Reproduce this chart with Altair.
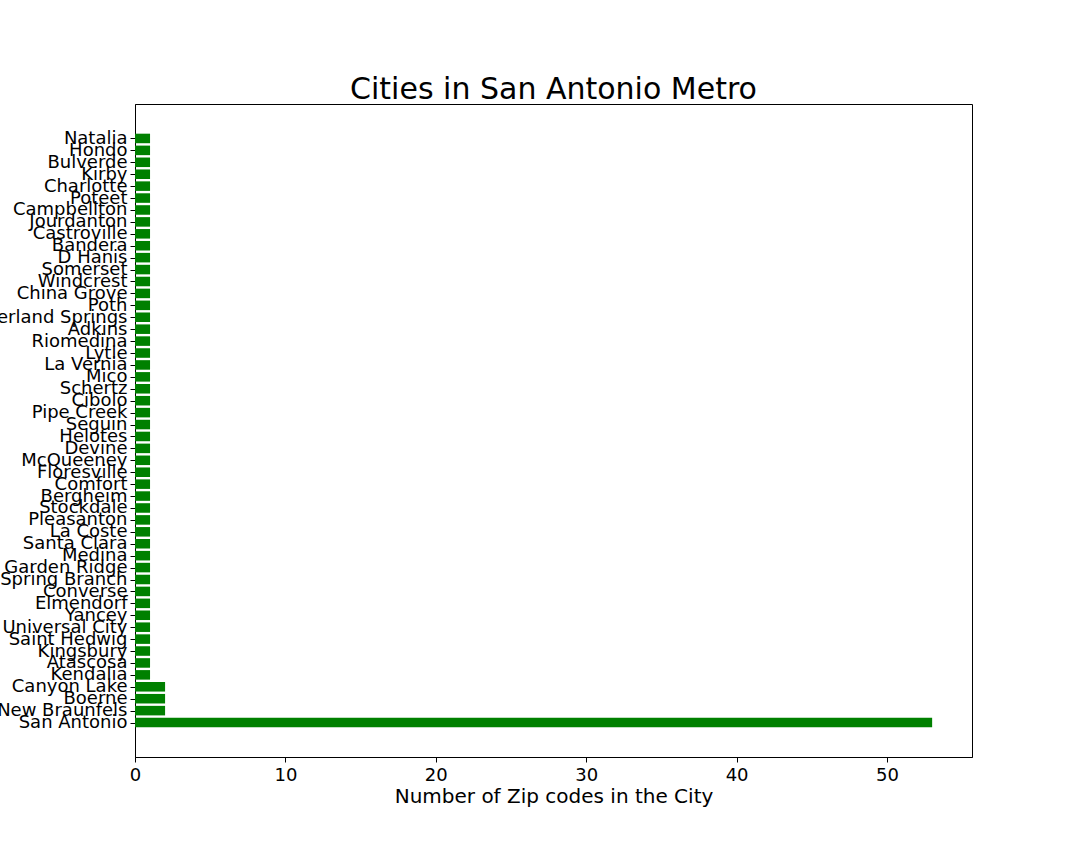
import json
import altair as alt
import pandas as pd

cities = ["Natalia", "Hondo", "Bulverde", "Kirby", "Charlotte", "Poteet", "Campbellton",
          "Jourdanton", "Castroville", "Bandera", "D Hanis", "Somerset", "Windcrest",
          "China Grove", "Poth", "Sutherland Springs", "Adkins", "Riomedina", "Lytle",
          "La Vernia", "Mico", "Schertz", "Cibolo", "Pipe Creek", "Seguin", "Helotes",
          "Devine", "McQueeney", "Floresville", "Comfort", "Bergheim", "Stockdale",
          "Pleasanton", "La Coste", "Santa Clara", "Medina", "Garden Ridge", "Spring Branch",
          "Converse", "Elmendorf", "Yancey", "Universal City", "Saint Hedwig", "Kingsbury",
          "Atascosa", "Kendalia", "Canyon Lake", "Boerne", "New Braunfels", "San Antonio"]
counts = [1] * 46 + [2, 2, 2, 53]

n = len(cities)
idx = [n - 1 - i for i in range(n)]  # San Antonio at 0 (bottom)
df = pd.DataFrame({
    "city": cities,
    "count": counts,
    "idx": idx,
})
df["y0"] = df["idx"] - 0.4
df["y1"] = df["idx"] + 0.4

names_by_idx = [None] * n
for c, i in zip(cities, idx):
    names_by_idx[i] = c
label_expr = json.dumps(names_by_idx) + "[datum.value]"

FONT = "DejaVu Sans"

chart = alt.Chart(df).mark_bar(color="#008000").encode(
    x=alt.X("count:Q",
            scale=alt.Scale(domain=[0, 55.65], nice=False, zero=True),
            axis=alt.Axis(title="Number of Zip codes in the City", values=[0, 10, 20, 30, 40, 50],
                          grid=False, tickSize=5, tickColor="black", domainColor="black",
                          labelFontSize=18, titleFontSize=20, labelColor="black",
                          titleColor="black", titleFontWeight="normal", labelPadding=4,
                          titlePadding=2, labelFont=FONT, titleFont=FONT, labelFlush=False)),
    x2=alt.value(0),
    y=alt.Y("y0:Q",
            scale=alt.Scale(domain=[-2.89, 51.89], nice=False, zero=False),
            axis=alt.Axis(title=None, values=list(range(n)), labelExpr=label_expr,
                          grid=False, tickSize=5, tickColor="black", domainColor="black",
                          labelFontSize=18, labelColor="black", labelPadding=3,
                          labelFont=FONT, labelOverlap=False, labelBaseline="middle",
                          labelLimit=0, labelFlush=False)),
    y2="y1:Q",
).properties(
    width=837,
    height=653,
    title=alt.TitleParams("Cities in San Antonio Metro", fontSize=30, font=FONT,
                          fontWeight="normal", color="black", anchor="middle", offset=-1),
    autosize=alt.AutoSizeParams(type="none"),
    padding={"left": 135, "top": 104, "right": 108, "bottom": 107},
).configure_view(stroke="black", strokeWidth=1)

chart.save("out.html", embed_options={"renderer": "svg", "actions": False})
